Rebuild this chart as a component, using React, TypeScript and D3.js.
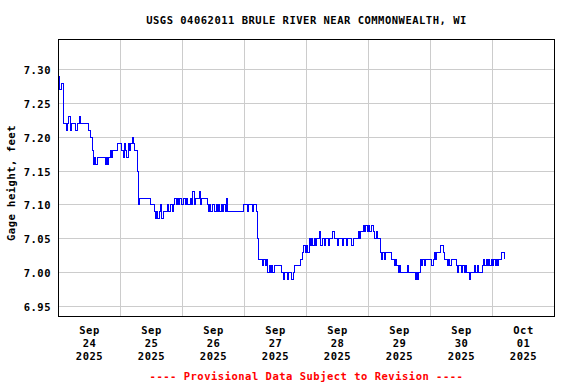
import React from "react";
import * as d3 from "d3";

const W = 576;
const H = 384;

const title = "USGS 04062011 BRULE RIVER NEAR COMMONWEALTH, WI";
const yLabel = "Gage height, feet";
const footer = "---- Provisional Data Subject to Revision ----";

const dayStarts = [
  "2025-09-24", "2025-09-25", "2025-09-26", "2025-09-27",
  "2025-09-28", "2025-09-29", "2025-09-30", "2025-10-01",
];
const yTicks = [6.95, 7.0, 7.05, 7.1, 7.15, 7.2, 7.25, 7.3];
const yDomain = [6.9352, 7.3443];
const xDomainStart = "2025-09-24T00:00:00Z";
const xDomainEnd = "2025-10-02T00:00:00Z";

// Gage height readings, 30-minute steps from each day's midnight
const sep24 = [7.29,7.27,7.28,7.28,7.22,7.22,7.21,7.22,7.23,7.21,7.22,7.22,7.22,7.21,7.21,7.22,7.23,7.22,7.22,7.22,7.22,7.22,7.22,7.21,7.21,7.20,7.18,7.16,7.17,7.16,7.17,7.17,7.17,7.17,7.17,7.17,7.16,7.17,7.16,7.17,7.18,7.17,7.18,7.18,7.18,7.18,7.19,7.19];
const sep25 = [7.19,7.18,7.17,7.19,7.18,7.17,7.19,7.18,7.19,7.20,7.19,7.18,7.18,7.15,7.10,7.11,7.11,7.11,7.11,7.11,7.11,7.11,7.11,7.10,7.10,7.10,7.09,7.08,7.09,7.08,7.09,7.10,7.08,7.09,7.09,7.09,7.10,7.09,7.09,7.10,7.09,7.10,7.11,7.10,7.11,7.10,7.11,7.10];
const sep26 = [7.10,7.11,7.10,7.11,7.10,7.10,7.11,7.10,7.12,7.10,7.11,7.11,7.11,7.12,7.10,7.11,7.11,7.11,7.11,7.10,7.09,7.10,7.09,7.10,7.10,7.09,7.10,7.09,7.10,7.09,7.10,7.09,7.10,7.09,7.11,7.09,7.09,7.09,7.09,7.09,7.09,7.09,7.09,7.09,7.09,7.09,7.09,7.10];
const sep27 = [7.10,7.10,7.09,7.10,7.10,7.10,7.09,7.10,7.10,7.09,7.05,7.02,7.02,7.02,7.01,7.02,7.01,7.02,7.00,7.01,7.00,7.01,7.00,7.01,7.01,7.01,7.01,7.01,7.01,7.00,6.99,7.00,7.00,6.99,7.00,7.00,6.99,6.99,7.00,7.01,7.01,7.01,7.01,7.02,7.02,7.03,7.04,7.03];
const sep28 = [7.04,7.03,7.05,7.04,7.05,7.04,7.05,7.04,7.05,7.05,7.06,7.04,7.05,7.05,7.04,7.05,7.05,7.04,7.05,7.05,7.06,7.06,7.05,7.05,7.04,7.05,7.05,7.05,7.04,7.05,7.05,7.04,7.05,7.05,7.05,7.04,7.05,7.05,7.05,7.05,7.06,7.05,7.06,7.06,7.07,7.06,7.07,7.06];
const sep29 = [7.07,7.06,7.07,7.07,7.06,7.05,7.06,7.05,7.05,7.03,7.02,7.03,7.02,7.03,7.03,7.03,7.03,7.03,7.02,7.02,7.01,7.02,7.01,7.00,7.01,7.00,7.00,7.00,7.00,7.00,7.01,7.00,7.00,7.00,7.00,7.00,6.99,7.00,6.99,7.00,7.02,7.01,7.02,7.01,7.02,7.02,7.02,7.02];
const sep30 = [7.02,7.01,7.02,7.03,7.02,7.03,7.03,7.03,7.04,7.04,7.03,7.02,7.02,7.01,7.02,7.01,7.02,7.02,7.02,7.02,7.01,7.00,7.01,7.01,7.00,7.01,7.00,7.01,7.00,7.00,6.99,7.00,7.00,7.00,7.01,7.00,7.01,7.00,7.00,7.00,7.01,7.02,7.01,7.02,7.01,7.02,7.01,7.02];
const oct01 = [7.01,7.02,7.01,7.02,7.01,7.02,7.02,7.03,7.03,7.02];

const dayValues = [sep24, sep25, sep26, sep27, sep28, sep29, sep30, oct01];

const FONT = "'DejaVu Sans Mono', monospace";

export default function App() {
  const left = 58.5, right = 554.5, top = 39.5, bottom = 316.5;

  const x = d3.scaleUtc()
    .domain([new Date(xDomainStart), new Date(xDomainEnd)])
    .range([left, right]);
  const y = d3.scaleLinear().domain(yDomain).range([bottom, top]);

  const data: { t: Date; v: number }[] = [];
  dayValues.forEach((vals, d) => {
    const base = Date.parse(dayStarts[d] + "T00:00:00Z");
    vals.forEach((v, i) => data.push({ t: new Date(base + i * 30 * 60000), v }));
  });

  const line = d3.line<{ t: Date; v: number }>()
    .x((d) => x(d.t))
    .y((d) => y(d.v))
    .curve(d3.curveStepAfter);

  const gridDays = d3.utcDay.range(new Date(xDomainStart), new Date(xDomainEnd)).slice(1);
  const labelDays = dayStarts.map((s) => new Date(Date.parse(s + "T12:00:00Z")));
  const fmtMon = d3.utcFormat("%b");
  const fmtDay = d3.utcFormat("%d");
  const fmtYear = d3.utcFormat("%Y");
  const fmtY = d3.format(".2f");
  const snap = (p: number) => Math.round(p - 0.5) + 0.5;

  const textStyle: React.CSSProperties = {
    fontFamily: FONT,
    fontWeight: "bold",
    fontSize: "10.5px",
    letterSpacing: "0.5px",
  };

  return (
    <svg
      width={W}
      height={H}
      viewBox={`0 0 ${W} ${H}`}
      style={{ position: "absolute", left: 0, top: 0, display: "block", background: "#fff" }}
    >
      <rect x={0} y={0} width={W} height={H} fill="#fff" />
      <text x={(left + right) / 2} y={24} textAnchor="middle" fill="#000" style={textStyle}>
        {title}
      </text>

      <g shapeRendering="crispEdges" stroke="#cccccc" strokeWidth={1}>
        {yTicks.map((v) => (
          <line key={"gy" + v} x1={left} x2={right} y1={snap(y(v))} y2={snap(y(v))} />
        ))}
        {gridDays.map((d) => (
          <line key={"gx" + d.getTime()} x1={snap(x(d))} x2={snap(x(d))} y1={top} y2={bottom} />
        ))}
      </g>

      <path
        d={line(data) || ""}
        fill="none"
        stroke="#0000ff"
        strokeWidth={1}
        shapeRendering="crispEdges"
      />

      <rect
        x={left}
        y={top}
        width={right - left}
        height={bottom - top}
        fill="none"
        stroke="#000"
        strokeWidth={1}
        shapeRendering="crispEdges"
      />

      {yTicks.map((v) => (
        <text key={"ty" + v} x={51} y={snap(y(v)) + 4.5} textAnchor="end" fill="#000" style={textStyle}>
          {fmtY(v)}
        </text>
      ))}

      {labelDays.map((d) => (
        <g key={"tx" + d.getTime()}>
          <text x={x(d)} y={334} textAnchor="middle" fill="#000" style={textStyle}>{fmtMon(d)}</text>
          <text x={x(d)} y={347} textAnchor="middle" fill="#000" style={textStyle}>{fmtDay(d)}</text>
          <text x={x(d)} y={360} textAnchor="middle" fill="#000" style={textStyle}>{fmtYear(d)}</text>
        </g>
      ))}

      <text
        transform={`translate(15, ${(top + bottom) / 2 + 5}) rotate(-90)`}
        textAnchor="middle"
        fill="#000"
        style={textStyle}
      >
        {yLabel}
      </text>

      <text x={(left + right) / 2} y={379.5} textAnchor="middle" fill="#ff0000" style={textStyle}>
        {footer}
      </text>
    </svg>
  );
}
